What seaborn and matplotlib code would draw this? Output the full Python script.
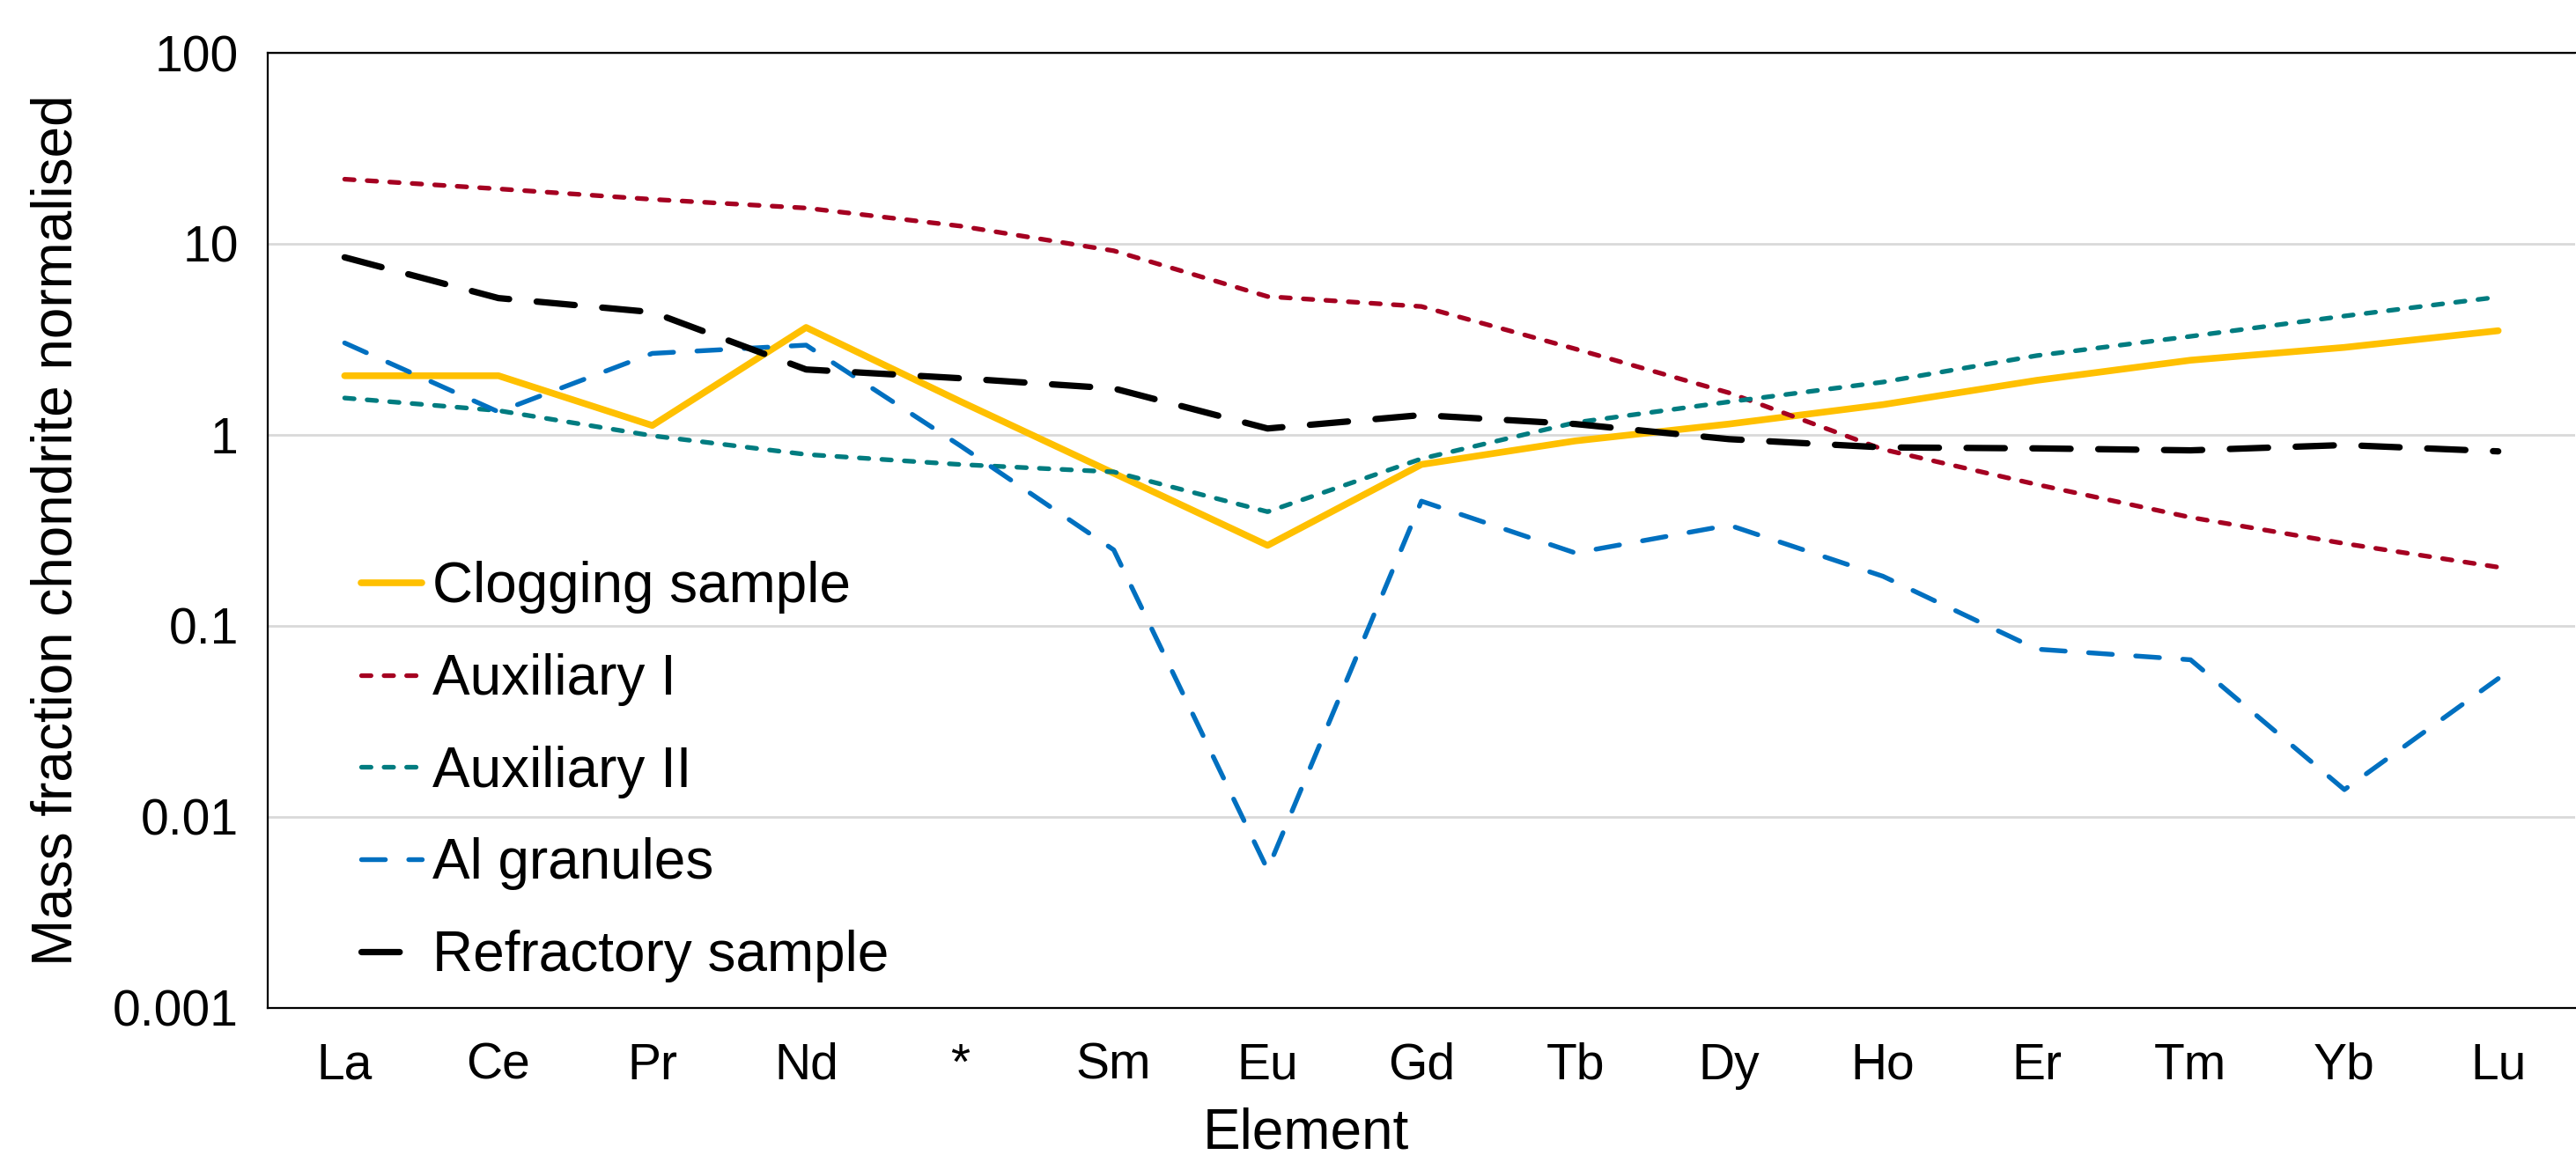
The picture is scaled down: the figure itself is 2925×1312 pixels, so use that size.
import matplotlib
matplotlib.use("Agg")
import matplotlib.pyplot as plt
import seaborn as sns
import pandas as pd

# Data (chondrite normalised mass fractions)
elements = ["La", "Ce", "Pr", "Nd", "*", "Sm", "Eu", "Gd", "Tb", "Dy",
            "Ho", "Er", "Tm", "Yb", "Lu"]
clogging = [2.04, 2.04, 1.12, 3.65, 1.5, 0.63, 0.264, 0.70, 0.93, 1.14,
            1.44, 1.93, 2.46, 2.87, 3.51]
auxiliary_1 = [21.8, 19.4, 17.1, 15.4, 12.4, 9.2, 5.3, 4.7, 2.82, 1.66,
               0.84, 0.55, 0.37, 0.27, 0.203]
auxiliary_2 = [1.56, 1.34, 0.99, 0.79, 0.70, 0.64, 0.396, 0.75, 1.16, 1.49,
               1.89, 2.6, 3.28, 4.19, 5.27]
al_granules = [3.03, 1.32, 2.67, 2.95, 0.88, 0.25, 0.0053, 0.45, 0.241, 0.337,
               0.182, 0.0756, 0.0665, 0.0139, 0.053]
refractory = [8.5, 5.2, 4.39, 2.2, 1.98, 1.75, 1.08, 1.27, 1.14, 0.95,
              0.86, 0.85, 0.83, 0.885, 0.82]

y_ticks = [0.001, 0.01, 0.1, 1, 10, 100]
y_tick_labels = ["0.001", "0.01", "0.1", "1", "10", "100"]

# series name -> (values, colour, linewidth, dash pattern)
series = [
    ("Clogging sample", clogging, "#FFC000", 5.5, None),
    ("Auxiliary I", auxiliary_1, "#A50021", 3.8, (2.05, 2.8)),
    ("Auxiliary II", auxiliary_2, "#007C80", 3.8, (2.05, 2.8)),
    ("Al granules", al_granules, "#0070C0", 3.9, (5.0, 4.9)),
    ("Refractory sample", refractory, "#000000", 5.2, (6.0, 4.35)),
]

sns.set_style("white")
plt.rcParams["font.family"] = ["Liberation Sans", "DejaVu Sans"]
plt.rcParams["text.color"] = "black"
plt.rcParams["axes.labelcolor"] = "black"
plt.rcParams["xtick.color"] = "black"
plt.rcParams["ytick.color"] = "black"

fig = plt.figure(figsize=(29.25, 13.12), dpi=100)
ax = fig.add_axes([304 / 2925, 1 - 1145 / 1312, 2620 / 2925, (1145 - 60) / 1312])

for name, vals, col, lw, dash in series:
    df = pd.DataFrame({"Element": elements, "Value": vals})
    sns.lineplot(data=df, x="Element", y="Value", color=col, label=name,
                 sort=False, ax=ax)
    line = ax.lines[-1]
    line.set_linewidth(lw)
    line.set_solid_capstyle("round")
    line.set_solid_joinstyle("round")
    if dash is not None:
        line.set_linestyle((0, dash))
        line.set_dash_capstyle("round")
        line.set_dash_joinstyle("round")

ax.set_yscale("log")
ax.set_ylim(0.001, 100)
ax.set_xlim(-0.5, len(elements) - 0.5)
ax.set_yticks(y_ticks)
ax.set_yticklabels(y_tick_labels)
ax.minorticks_off()
ax.set_xticks(range(len(elements)))
ax.set_xticklabels(elements)
ax.tick_params(axis="both", length=0, labelsize=41, labelcolor="black")
ax.tick_params(axis="x", pad=28)
ax.tick_params(axis="y", pad=24)

ax.yaxis.grid(True, color="#D9D9D9", linewidth=2)
ax.xaxis.grid(False)
ax.set_axisbelow(True)

for side in ["top", "bottom", "left"]:
    ax.spines[side].set_color("black")
    ax.spines[side].set_linewidth(1.6)
ax.spines["right"].set_visible(False)

ax.set_xlabel("Element", fontsize=46, color="black")
ax.set_ylabel("Mass fraction chondrite normalised", fontsize=46, color="black")
ax.xaxis.set_label_coords(0.45, -0.104)
ax.yaxis.set_label_coords(-0.08, 0.5)

leg = ax.legend(loc="upper left", bbox_to_anchor=(0.0406, 0.468), frameon=False,
                fontsize=46, handlelength=1.08, handletextpad=0.18,
                labelspacing=0.7, borderpad=0, borderaxespad=0)
for t in leg.get_texts():
    t.set_color("black")

fig.savefig("out.png", dpi=100)
